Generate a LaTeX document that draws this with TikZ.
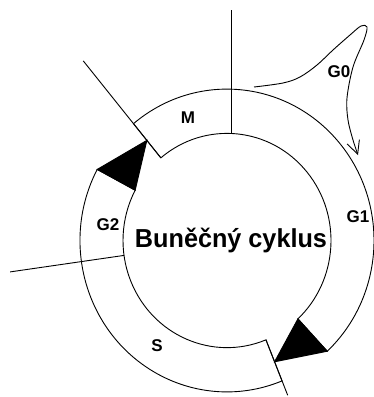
\documentclass[tikz,border=0pt]{standalone}
\usepackage{fontspec}
\setmainfont{Liberation Sans}
\usetikzlibrary{arrows.meta}

\begin{document}
\begin{tikzpicture}[
    x=1pt,y=1pt,
    line width=0.9pt,
    ring/.style={draw,fill=white},
    wedge/.style={draw,fill=black},
    phase/.style={font=\bfseries\fontsize{17}{17}\selectfont},
    title/.style={font=\bfseries\fontsize{26}{26}\selectfont,anchor=base,xscale=0.97}
]
\useasboundingbox (0,0) rectangle (374,-397);
\coordinate (c) at (227,-240.5);
\begin{scope}[shift={(c)},yscale=1.03]
  % upper ring (M, G1)
  \draw[ring] (-47:147) arc[start angle=-47,end angle=129.5,radius=147]
    -- (129.5:104) arc[start angle=129.5,end angle=-47,radius=104] -- cycle;
  % lower ring (S, G2)
  \draw[ring] (152:147) arc[start angle=152,end angle=292,radius=147]
    -- (292:104) arc[start angle=292,end angle=152,radius=104] -- cycle;
  % arrow heads
  \draw[wedge] (152:147) -- (129.5:126) -- (152:104) -- cycle;
  \draw[wedge] (-47:147) -- (-68:127) -- (-47:104) -- cycle;
  % borders
  \coordinate (mtop) at (129.5:226);
  \coordinate (sleft) at (188:219);
  \coordinate (sbot) at (-68:162);
  \draw (129.5:104) -- (mtop);
  \draw (188:104) -- (sleft);
  \draw (-68:104) -- (sbot);
\end{scope}
\coordinate (g1top) at (231,-10);
\coordinate (g1in) at (231,-133.5);
\draw (g1in) -- (g1top);

% G0 loop
\coordinate (g0a) at (254,-87);
\coordinate (g0b) at (358,-155);
\draw[-{Straight Barb[length=13pt,width=13pt]}] plot[smooth,tension=0.55] coordinates
  {(g0a) (283,-83) (300,-77) (317,-65) (333,-50) (350,-35) (361,-26) (367,-27)
   (364,-40) (353,-67) (347,-98) (348,-120) (353,-140) (g0b)};

\node[title] (cyc) at (231,-247) {Buněčný cyklus};
\node[phase] (m) at (188,-118) {M};
\node[phase] (g0) at (339,-72) {G0};
\node[phase] (g1) at (358,-217) {G1};
\node[phase] (g2) at (108,-225) {G2};
\node[phase] (s) at (157,-346) {S};
\end{tikzpicture}
\end{document}
